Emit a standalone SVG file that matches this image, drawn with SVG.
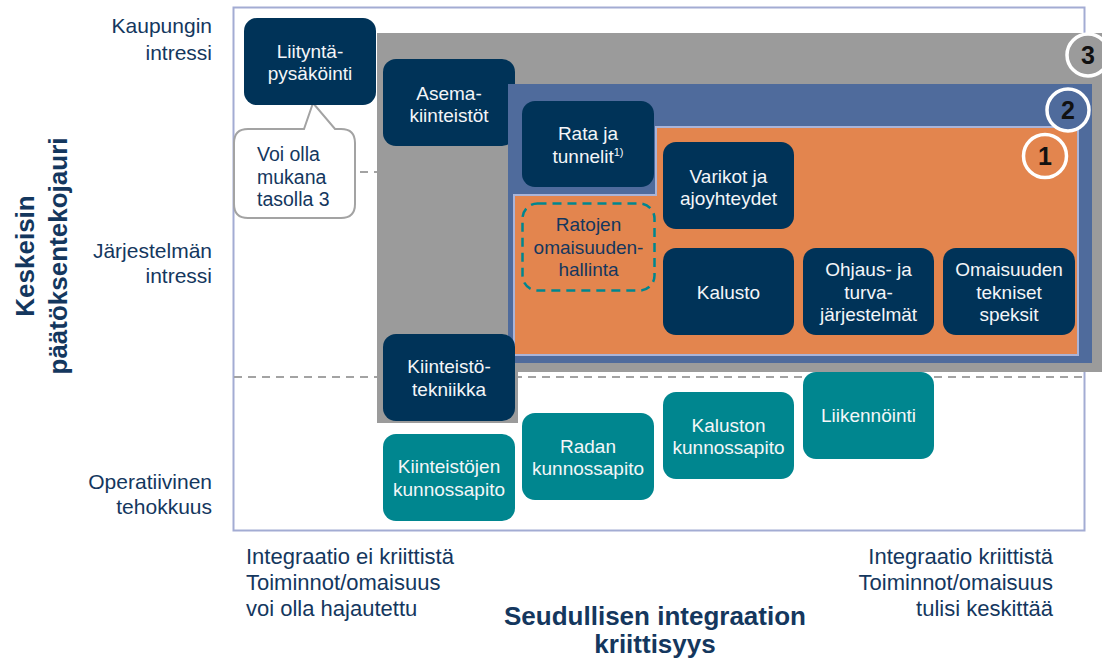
<svg xmlns="http://www.w3.org/2000/svg" width="1102" height="662" viewBox="0 0 1102 662">
  <style>
    .axis { font-family: "Liberation Sans", Arial, sans-serif; font-size: 21px; fill: #14375e; }
    .axisb { font-family: "Liberation Sans", Arial, sans-serif; font-size: 22px; fill: #14375e; }
    .note { font-family: "Liberation Sans", Arial, sans-serif; font-size: 19.5px; fill: #14375e; }
    .title { font-family: "Liberation Sans", Arial, sans-serif; font-size: 26px; font-weight: bold; fill: #14375e; }
    .bt { font-family: "Liberation Sans", Arial, sans-serif; font-size: 19px; fill: #f4f6f8; text-anchor: middle; }
    .dt { font-family: "Liberation Sans", Arial, sans-serif; font-size: 19px; fill: #14375e; text-anchor: middle; }
    .navy { fill: #003358; }
    .teal { fill: #00868f; }
    .dash { stroke: #a3a3a3; stroke-width: 2; stroke-dasharray: 8 6; fill: none; }
    .ring { stroke: #ffffff; stroke-width: 3.5; }
    .num { font-family: "Liberation Sans", Arial, sans-serif; font-size: 25px; font-weight: bold; fill: #111111; text-anchor: middle; }
  </style>

  <!-- chart frame -->
  <rect x="233.5" y="7.5" width="851" height="523" fill="#ffffff" stroke="#a3acd3" stroke-width="2"/>

  <!-- level separators -->
  <g id="connectors">
    <line class="dash" x1="234" y1="172" x2="378" y2="172"/>
    <line class="dash" x1="234" y1="377" x2="1084" y2="377"/>
  </g>

  <!-- level 3 area -->
  <g id="level3">
    <polygon points="377,33 1102,33 1102,372 518,372 518,423 377,423" fill="#9b9b9b"/>
  </g>

  <g id="asemakiinteistot">
    <rect class="navy" x="383" y="59" width="132" height="87" rx="13"/>
    <text class="bt" x="449" y="99.5">Asema-</text>
    <text class="bt" x="449" y="122">kiinteistöt</text>
  </g>

  <!-- level 2 area -->
  <g id="level2">
    <rect x="508" y="84" width="584" height="279" fill="#4f6b9c"/>
  </g>

  <!-- level 1 area -->
  <g id="level1">
    <polygon points="656,127 1078,127 1078,355 514,355 514,195 656,195" fill="#e3854e" stroke="#aab4d8" stroke-width="2"/>
  </g>

  <!-- level markers -->
  <g id="marker3">
    <circle class="ring" cx="1088" cy="55" r="21" fill="#9b9b9b"/>
    <text class="num" x="1088" y="64">3</text>
  </g>
  <g id="marker2">
    <circle class="ring" cx="1068" cy="110" r="21" fill="#4f6b9c"/>
    <text class="num" x="1068" y="119">2</text>
  </g>
  <g id="marker1">
    <circle class="ring" cx="1045" cy="156" r="21.5" fill="#e3854e"/>
    <text class="num" x="1045" y="165">1</text>
  </g>

  <!-- callout -->
  <g id="callout">
    <path d="M248,129 L304,129 L313,103 L335,129 L341,129 Q355,129 355,143 L355,204 Q355,218 341,218 L248,218 Q234,218 234,204 L234,143 Q234,129 248,129 Z" fill="#ffffff" stroke="#a3a3a3" stroke-width="2"/>
    <text class="note" x="257" y="161">Voi olla</text>
    <text class="note" x="257" y="183.5">mukana</text>
    <text class="note" x="257" y="206">tasolla 3</text>
  </g>

  <g id="liityntapysakointi">
    <rect class="navy" x="244" y="18" width="132" height="87" rx="13"/>
    <text class="bt" x="310" y="57.5">Liityntä-</text>
    <text class="bt" x="310" y="80">pysäköinti</text>
  </g>

  <g id="ratajatunnelit">
    <rect class="navy" x="522" y="101" width="132" height="86" rx="13"/>
    <text class="bt" x="588" y="140">Rata ja</text>
    <text class="bt" x="588" y="162.5">tunnelit<tspan font-size="11" dy="-7">1)</tspan></text>
  </g>

  <g id="varikot">
    <rect class="navy" x="663" y="142" width="131" height="87" rx="13"/>
    <text class="bt" x="728.5" y="183">Varikot ja</text>
    <text class="bt" x="728.5" y="205">ajoyhteydet</text>
  </g>

  <g id="ratojenomaisuudenhallinta">
    <rect x="522.5" y="203.5" width="132" height="87" rx="15" fill="none" stroke="#00868f" stroke-width="2.5" stroke-dasharray="9 6"/>
    <text class="dt" x="588.5" y="231">Ratojen</text>
    <text class="dt" x="588.5" y="253.5">omaisuuden-</text>
    <text class="dt" x="588.5" y="276">hallinta</text>
  </g>

  <g id="kalusto">
    <rect class="navy" x="663" y="248" width="131" height="87" rx="13"/>
    <text class="bt" x="728.5" y="298.5">Kalusto</text>
  </g>

  <g id="ohjausjaturvajarjestelmat">
    <rect class="navy" x="803" y="248" width="131" height="87" rx="13"/>
    <text class="bt" x="868.5" y="276">Ohjaus- ja</text>
    <text class="bt" x="868.5" y="298.5">turva-</text>
    <text class="bt" x="868.5" y="321">järjestelmät</text>
  </g>

  <g id="omaisuudentekniset">
    <rect class="navy" x="943" y="248" width="132" height="87" rx="13"/>
    <text class="bt" x="1009" y="276">Omaisuuden</text>
    <text class="bt" x="1009" y="298.5">tekniset</text>
    <text class="bt" x="1009" y="321">speksit</text>
  </g>

  <g id="kiinteistotekniikka">
    <rect class="navy" x="383" y="334" width="132" height="87" rx="13"/>
    <text class="bt" x="449" y="373">Kiinteistö-</text>
    <text class="bt" x="449" y="395.5">tekniikka</text>
  </g>

  <g id="kiinteistojenkunnossapito">
    <rect class="teal" x="383" y="434" width="132" height="87" rx="13"/>
    <text class="bt" x="449" y="473">Kiinteistöjen</text>
    <text class="bt" x="449" y="495.5">kunnossapito</text>
  </g>

  <g id="radankunnossapito">
    <rect class="teal" x="522" y="413" width="132" height="87" rx="13"/>
    <text class="bt" x="588" y="452.5">Radan</text>
    <text class="bt" x="588" y="475">kunnossapito</text>
  </g>

  <g id="kalustonkunnossapito">
    <rect class="teal" x="663" y="392" width="131" height="87" rx="13"/>
    <text class="bt" x="728.5" y="431.5">Kaluston</text>
    <text class="bt" x="728.5" y="454">kunnossapito</text>
  </g>

  <g id="liikennointi">
    <rect class="teal" x="803" y="372" width="131" height="87" rx="13"/>
    <text class="bt" x="868.5" y="422">Liikennöinti</text>
  </g>

  <!-- vertical axis -->
  <g id="yaxis">
    <text class="axis" x="212" y="33" text-anchor="end">Kaupungin</text>
    <text class="axis" x="212" y="60" text-anchor="end">intressi</text>
    <text class="axis" x="212" y="258" text-anchor="end">Järjestelmän</text>
    <text class="axis" x="212" y="283" text-anchor="end">intressi</text>
    <text class="axis" x="212" y="489" text-anchor="end">Operatiivinen</text>
    <text class="axis" x="212" y="514" text-anchor="end">tehokkuus</text>
    <text class="title" transform="translate(34,256) rotate(-90)" text-anchor="middle">Keskeisin</text>
    <text class="title" transform="translate(67,256) rotate(-90)" text-anchor="middle">päätöksentekojauri</text>
  </g>

  <!-- horizontal axis -->
  <g id="xaxis">
    <text class="axisb" x="246" y="564">Integraatio ei kriittistä</text>
    <text class="axisb" x="246" y="590">Toiminnot/omaisuus</text>
    <text class="axisb" x="246" y="616">voi olla hajautettu</text>
    <text class="axisb" x="1053" y="564" text-anchor="end">Integraatio kriittistä</text>
    <text class="axisb" x="1053" y="590" text-anchor="end">Toiminnot/omaisuus</text>
    <text class="axisb" x="1053" y="616" text-anchor="end">tulisi keskittää</text>
    <text class="title" x="655" y="625" text-anchor="middle">Seudullisen integraation</text>
    <text class="title" x="655" y="653" text-anchor="middle">kriittisyys</text>
  </g>
</svg>
